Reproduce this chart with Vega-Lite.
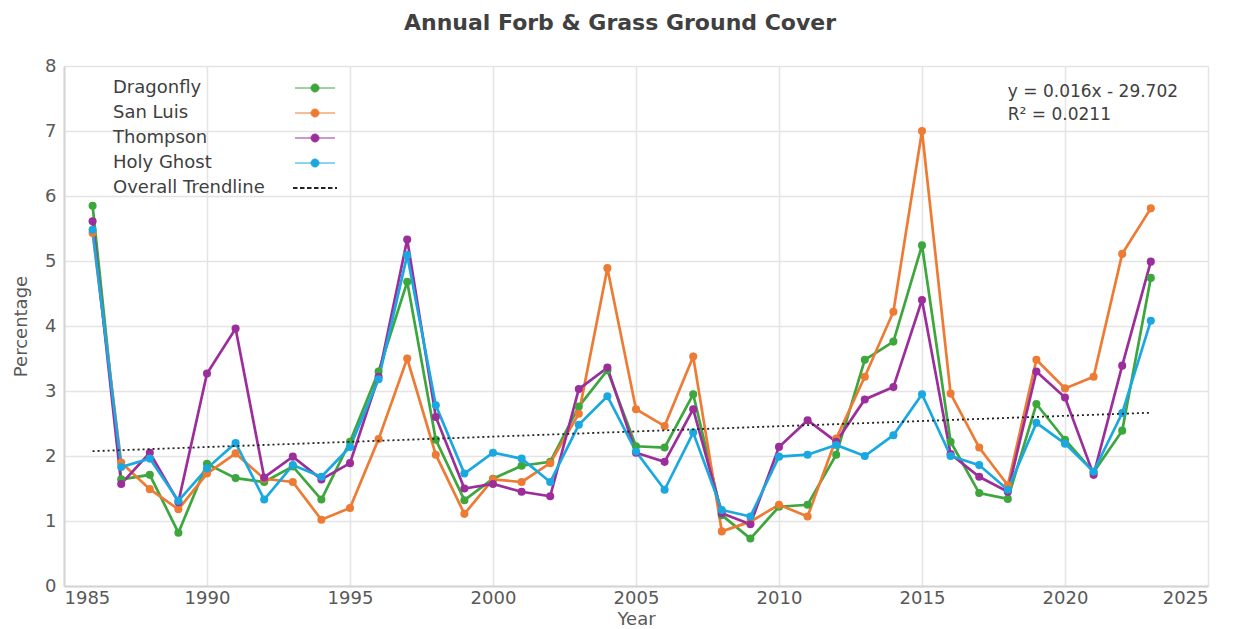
{
  "$schema": "https://vega.github.io/schema/vega-lite/v6.json",
  "width": 1144,
  "height": 520,
  "autosize": {"type": "none"},
  "padding": {"left": 64, "top": 66, "right": 27, "bottom": 43},
  "background": "white",
  "title": {"text": "Annual Forb & Grass Ground Cover", "fontSize": 22, "fontWeight": "bold", "color": "#404040", "font": "DejaVu Sans", "offset": 22, "anchor": "middle", "dx": -16},
  "config": {
    "view": {"stroke": null},
    "font": "DejaVu Sans",
    "axis": {"labelFont": "DejaVu Sans", "titleFont": "DejaVu Sans", "labelColor": "#595959", "titleColor": "#595959", "labelFontSize": 18, "titleFontSize": 18, "titleFontWeight": "normal", "gridColor": "#e4e4e4", "gridWidth": 1.5, "domainColor": "#d4d4d4", "domainWidth": 2, "ticks": false}
  },
  "datasets": {
    "series": [
      {"Year": 1986, "Site": "Dragonfly", "Value": 5.85}, {"Year": 1987, "Site": "Dragonfly", "Value": 1.64}, {"Year": 1988, "Site": "Dragonfly", "Value": 1.71}, {"Year": 1989, "Site": "Dragonfly", "Value": 0.82}, {"Year": 1990, "Site": "Dragonfly", "Value": 1.88}, {"Year": 1991, "Site": "Dragonfly", "Value": 1.66}, {"Year": 1992, "Site": "Dragonfly", "Value": 1.60}, {"Year": 1993, "Site": "Dragonfly", "Value": 1.84}, {"Year": 1994, "Site": "Dragonfly", "Value": 1.33}, {"Year": 1995, "Site": "Dragonfly", "Value": 2.22}, {"Year": 1996, "Site": "Dragonfly", "Value": 3.30}, {"Year": 1997, "Site": "Dragonfly", "Value": 4.68}, {"Year": 1998, "Site": "Dragonfly", "Value": 2.25}, {"Year": 1999, "Site": "Dragonfly", "Value": 1.32}, {"Year": 2000, "Site": "Dragonfly", "Value": 1.65}, {"Year": 2001, "Site": "Dragonfly", "Value": 1.85}, {"Year": 2002, "Site": "Dragonfly", "Value": 1.91}, {"Year": 2003, "Site": "Dragonfly", "Value": 2.76}, {"Year": 2004, "Site": "Dragonfly", "Value": 3.32}, {"Year": 2005, "Site": "Dragonfly", "Value": 2.15}, {"Year": 2006, "Site": "Dragonfly", "Value": 2.13}, {"Year": 2007, "Site": "Dragonfly", "Value": 2.95}, {"Year": 2008, "Site": "Dragonfly", "Value": 1.09}, {"Year": 2009, "Site": "Dragonfly", "Value": 0.73}, {"Year": 2010, "Site": "Dragonfly", "Value": 1.22}, {"Year": 2011, "Site": "Dragonfly", "Value": 1.25}, {"Year": 2012, "Site": "Dragonfly", "Value": 2.02}, {"Year": 2013, "Site": "Dragonfly", "Value": 3.48}, {"Year": 2014, "Site": "Dragonfly", "Value": 3.76}, {"Year": 2015, "Site": "Dragonfly", "Value": 5.24}, {"Year": 2016, "Site": "Dragonfly", "Value": 2.22}, {"Year": 2017, "Site": "Dragonfly", "Value": 1.43}, {"Year": 2018, "Site": "Dragonfly", "Value": 1.34}, {"Year": 2019, "Site": "Dragonfly", "Value": 2.80}, {"Year": 2020, "Site": "Dragonfly", "Value": 2.25}, {"Year": 2021, "Site": "Dragonfly", "Value": 1.75}, {"Year": 2022, "Site": "Dragonfly", "Value": 2.39}, {"Year": 2023, "Site": "Dragonfly", "Value": 4.74},
      {"Year": 1986, "Site": "San Luis", "Value": 5.43}, {"Year": 1987, "Site": "San Luis", "Value": 1.90}, {"Year": 1988, "Site": "San Luis", "Value": 1.49}, {"Year": 1989, "Site": "San Luis", "Value": 1.18}, {"Year": 1990, "Site": "San Luis", "Value": 1.73}, {"Year": 1991, "Site": "San Luis", "Value": 2.04}, {"Year": 1992, "Site": "San Luis", "Value": 1.65}, {"Year": 1993, "Site": "San Luis", "Value": 1.60}, {"Year": 1994, "Site": "San Luis", "Value": 1.02}, {"Year": 1995, "Site": "San Luis", "Value": 1.20}, {"Year": 1996, "Site": "San Luis", "Value": 2.26}, {"Year": 1997, "Site": "San Luis", "Value": 3.50}, {"Year": 1998, "Site": "San Luis", "Value": 2.02}, {"Year": 1999, "Site": "San Luis", "Value": 1.11}, {"Year": 2000, "Site": "San Luis", "Value": 1.64}, {"Year": 2001, "Site": "San Luis", "Value": 1.60}, {"Year": 2002, "Site": "San Luis", "Value": 1.89}, {"Year": 2003, "Site": "San Luis", "Value": 2.65}, {"Year": 2004, "Site": "San Luis", "Value": 4.89}, {"Year": 2005, "Site": "San Luis", "Value": 2.72}, {"Year": 2006, "Site": "San Luis", "Value": 2.46}, {"Year": 2007, "Site": "San Luis", "Value": 3.53}, {"Year": 2008, "Site": "San Luis", "Value": 0.84}, {"Year": 2009, "Site": "San Luis", "Value": 0.99}, {"Year": 2010, "Site": "San Luis", "Value": 1.25}, {"Year": 2011, "Site": "San Luis", "Value": 1.07}, {"Year": 2012, "Site": "San Luis", "Value": 2.27}, {"Year": 2013, "Site": "San Luis", "Value": 3.22}, {"Year": 2014, "Site": "San Luis", "Value": 4.22}, {"Year": 2015, "Site": "San Luis", "Value": 7.00}, {"Year": 2016, "Site": "San Luis", "Value": 2.96}, {"Year": 2017, "Site": "San Luis", "Value": 2.13}, {"Year": 2018, "Site": "San Luis", "Value": 1.55}, {"Year": 2019, "Site": "San Luis", "Value": 3.48}, {"Year": 2020, "Site": "San Luis", "Value": 3.04}, {"Year": 2021, "Site": "San Luis", "Value": 3.22}, {"Year": 2022, "Site": "San Luis", "Value": 5.11}, {"Year": 2023, "Site": "San Luis", "Value": 5.81},
      {"Year": 1986, "Site": "Thompson", "Value": 5.61}, {"Year": 1987, "Site": "Thompson", "Value": 1.57}, {"Year": 1988, "Site": "Thompson", "Value": 2.05}, {"Year": 1989, "Site": "Thompson", "Value": 1.29}, {"Year": 1990, "Site": "Thompson", "Value": 3.27}, {"Year": 1991, "Site": "Thompson", "Value": 3.96}, {"Year": 1992, "Site": "Thompson", "Value": 1.67}, {"Year": 1993, "Site": "Thompson", "Value": 1.99}, {"Year": 1994, "Site": "Thompson", "Value": 1.64}, {"Year": 1995, "Site": "Thompson", "Value": 1.89}, {"Year": 1996, "Site": "Thompson", "Value": 3.22}, {"Year": 1997, "Site": "Thompson", "Value": 5.33}, {"Year": 1998, "Site": "Thompson", "Value": 2.60}, {"Year": 1999, "Site": "Thompson", "Value": 1.50}, {"Year": 2000, "Site": "Thompson", "Value": 1.57}, {"Year": 2001, "Site": "Thompson", "Value": 1.45}, {"Year": 2002, "Site": "Thompson", "Value": 1.38}, {"Year": 2003, "Site": "Thompson", "Value": 3.03}, {"Year": 2004, "Site": "Thompson", "Value": 3.36}, {"Year": 2005, "Site": "Thompson", "Value": 2.05}, {"Year": 2006, "Site": "Thompson", "Value": 1.91}, {"Year": 2007, "Site": "Thompson", "Value": 2.72}, {"Year": 2008, "Site": "Thompson", "Value": 1.12}, {"Year": 2009, "Site": "Thompson", "Value": 0.95}, {"Year": 2010, "Site": "Thompson", "Value": 2.14}, {"Year": 2011, "Site": "Thompson", "Value": 2.55}, {"Year": 2012, "Site": "Thompson", "Value": 2.22}, {"Year": 2013, "Site": "Thompson", "Value": 2.87}, {"Year": 2014, "Site": "Thompson", "Value": 3.06}, {"Year": 2015, "Site": "Thompson", "Value": 4.40}, {"Year": 2016, "Site": "Thompson", "Value": 2.03}, {"Year": 2017, "Site": "Thompson", "Value": 1.68}, {"Year": 2018, "Site": "Thompson", "Value": 1.45}, {"Year": 2019, "Site": "Thompson", "Value": 3.30}, {"Year": 2020, "Site": "Thompson", "Value": 2.90}, {"Year": 2021, "Site": "Thompson", "Value": 1.71}, {"Year": 2022, "Site": "Thompson", "Value": 3.39}, {"Year": 2023, "Site": "Thompson", "Value": 4.99},
      {"Year": 1986, "Site": "Holy Ghost", "Value": 5.48}, {"Year": 1987, "Site": "Holy Ghost", "Value": 1.83}, {"Year": 1988, "Site": "Holy Ghost", "Value": 1.96}, {"Year": 1989, "Site": "Holy Ghost", "Value": 1.31}, {"Year": 1990, "Site": "Holy Ghost", "Value": 1.81}, {"Year": 1991, "Site": "Holy Ghost", "Value": 2.20}, {"Year": 1992, "Site": "Holy Ghost", "Value": 1.33}, {"Year": 1993, "Site": "Holy Ghost", "Value": 1.86}, {"Year": 1994, "Site": "Holy Ghost", "Value": 1.68}, {"Year": 1995, "Site": "Holy Ghost", "Value": 2.14}, {"Year": 1996, "Site": "Holy Ghost", "Value": 3.18}, {"Year": 1997, "Site": "Holy Ghost", "Value": 5.09}, {"Year": 1998, "Site": "Holy Ghost", "Value": 2.78}, {"Year": 1999, "Site": "Holy Ghost", "Value": 1.73}, {"Year": 2000, "Site": "Holy Ghost", "Value": 2.05}, {"Year": 2001, "Site": "Holy Ghost", "Value": 1.96}, {"Year": 2002, "Site": "Holy Ghost", "Value": 1.60}, {"Year": 2003, "Site": "Holy Ghost", "Value": 2.48}, {"Year": 2004, "Site": "Holy Ghost", "Value": 2.92}, {"Year": 2005, "Site": "Holy Ghost", "Value": 2.07}, {"Year": 2006, "Site": "Holy Ghost", "Value": 1.48}, {"Year": 2007, "Site": "Holy Ghost", "Value": 2.36}, {"Year": 2008, "Site": "Holy Ghost", "Value": 1.17}, {"Year": 2009, "Site": "Holy Ghost", "Value": 1.07}, {"Year": 2010, "Site": "Holy Ghost", "Value": 1.99}, {"Year": 2011, "Site": "Holy Ghost", "Value": 2.02}, {"Year": 2012, "Site": "Holy Ghost", "Value": 2.17}, {"Year": 2013, "Site": "Holy Ghost", "Value": 2.00}, {"Year": 2014, "Site": "Holy Ghost", "Value": 2.32}, {"Year": 2015, "Site": "Holy Ghost", "Value": 2.95}, {"Year": 2016, "Site": "Holy Ghost", "Value": 2.00}, {"Year": 2017, "Site": "Holy Ghost", "Value": 1.86}, {"Year": 2018, "Site": "Holy Ghost", "Value": 1.48}, {"Year": 2019, "Site": "Holy Ghost", "Value": 2.51}, {"Year": 2020, "Site": "Holy Ghost", "Value": 2.19}, {"Year": 2021, "Site": "Holy Ghost", "Value": 1.76}, {"Year": 2022, "Site": "Holy Ghost", "Value": 2.66}, {"Year": 2023, "Site": "Holy Ghost", "Value": 4.08}
    ],
    "trend": [
      {"Year": 1986, "Site": "Overall Trendline", "Value": 2.074},
      {"Year": 2023, "Site": "Overall Trendline", "Value": 2.666}
    ],
    "equation": [
      {"Year": 2018, "Value": 7.60, "Label": "y = 0.016x - 29.702"},
      {"Year": 2018, "Value": 7.25, "Label": "R² = 0.0211"}
    ]
  },
  "encoding": {
    "x": {"field": "Year", "type": "quantitative", "scale": {"domain": [1985, 2025], "nice": false, "zero": false}, "axis": {"values": [1985, 1990, 1995, 2000, 2005, 2010, 2015, 2020, 2025], "format": "d", "title": "Year", "labelPadding": 3, "titlePadding": 3}},
    "y": {"field": "Value", "type": "quantitative", "scale": {"domain": [0, 8], "nice": false}, "axis": {"values": [0, 1, 2, 3, 4, 5, 6, 7, 8], "title": "Percentage", "labelPadding": 8, "titlePadding": 14}}
  },
  "layer": [
    {
      "data": {"name": "series"},
      "mark": {"type": "line", "strokeWidth": 2.7, "point": {"filled": true, "size": 65, "opacity": 1}},
      "encoding": {
        "color": {"field": "Site", "type": "nominal", "sort": null,
          "scale": {"domain": ["Dragonfly", "San Luis", "Thompson", "Holy Ghost", "Overall Trendline"], "range": ["#3DA63D", "#EE7B33", "#9C2E9C", "#1AA8E0", "#222222"]},
          "legend": {"orient": "none", "legendX": 242, "legendY": 13, "title": null, "symbolType": "M-5,0H5M1,0A1,1,0,1,1,-1,0A1,1,0,1,1,1,0Z", "symbolSize": 64, "symbolStrokeWidth": 1, "labelOffset": -211, "labelFontSize": 18, "labelColor": "#404040", "labelFont": "DejaVu Sans", "rowPadding": 7, "padding": 0,
            "encode": {"symbols": {"update": {
              "fill": {"signal": "datum.value === 'Overall Trendline' ? 'transparent' : scale('color', datum.value)"},
              "stroke": {"signal": "scale('color', datum.value)"},
              "shape": {"signal": "datum.value === 'Overall Trendline' ? 'M-5.5,0H5.5' : 'M-5,0H5M1,0A1,1,0,1,1,-1,0A1,1,0,1,1,1,0Z'"},
              "strokeDash": {"signal": "datum.value === 'Overall Trendline' ? [4.5, 2.5] : [1, 0]"},
              "strokeWidth": {"signal": "datum.value === 'Overall Trendline' ? 2 : 1"},
              "opacity": {"value": 1}}}}}
        }
      }
    },
    {
      "data": {"name": "trend"},
      "mark": {"type": "line", "strokeWidth": 1.8, "strokeDash": [2, 3]},
      "encoding": {
        "color": {"field": "Site", "type": "nominal", "sort": null,
          "scale": {"domain": ["Dragonfly", "San Luis", "Thompson", "Holy Ghost", "Overall Trendline"], "range": ["#3DA63D", "#EE7B33", "#9C2E9C", "#1AA8E0", "#222222"]},
          "legend": {"orient": "none", "legendX": 242, "legendY": 13, "title": null, "symbolType": "M-5,0H5M1,0A1,1,0,1,1,-1,0A1,1,0,1,1,1,0Z", "symbolSize": 64, "symbolStrokeWidth": 1, "labelOffset": -211, "labelFontSize": 18, "labelColor": "#404040", "labelFont": "DejaVu Sans", "rowPadding": 7, "padding": 0}
        }
      }
    },
    {
      "data": {"name": "equation"},
      "mark": {"type": "text", "align": "left", "baseline": "middle", "fontSize": 17, "color": "#404040", "font": "DejaVu Sans"},
      "encoding": {"text": {"field": "Label"}}
    }
  ]
}
